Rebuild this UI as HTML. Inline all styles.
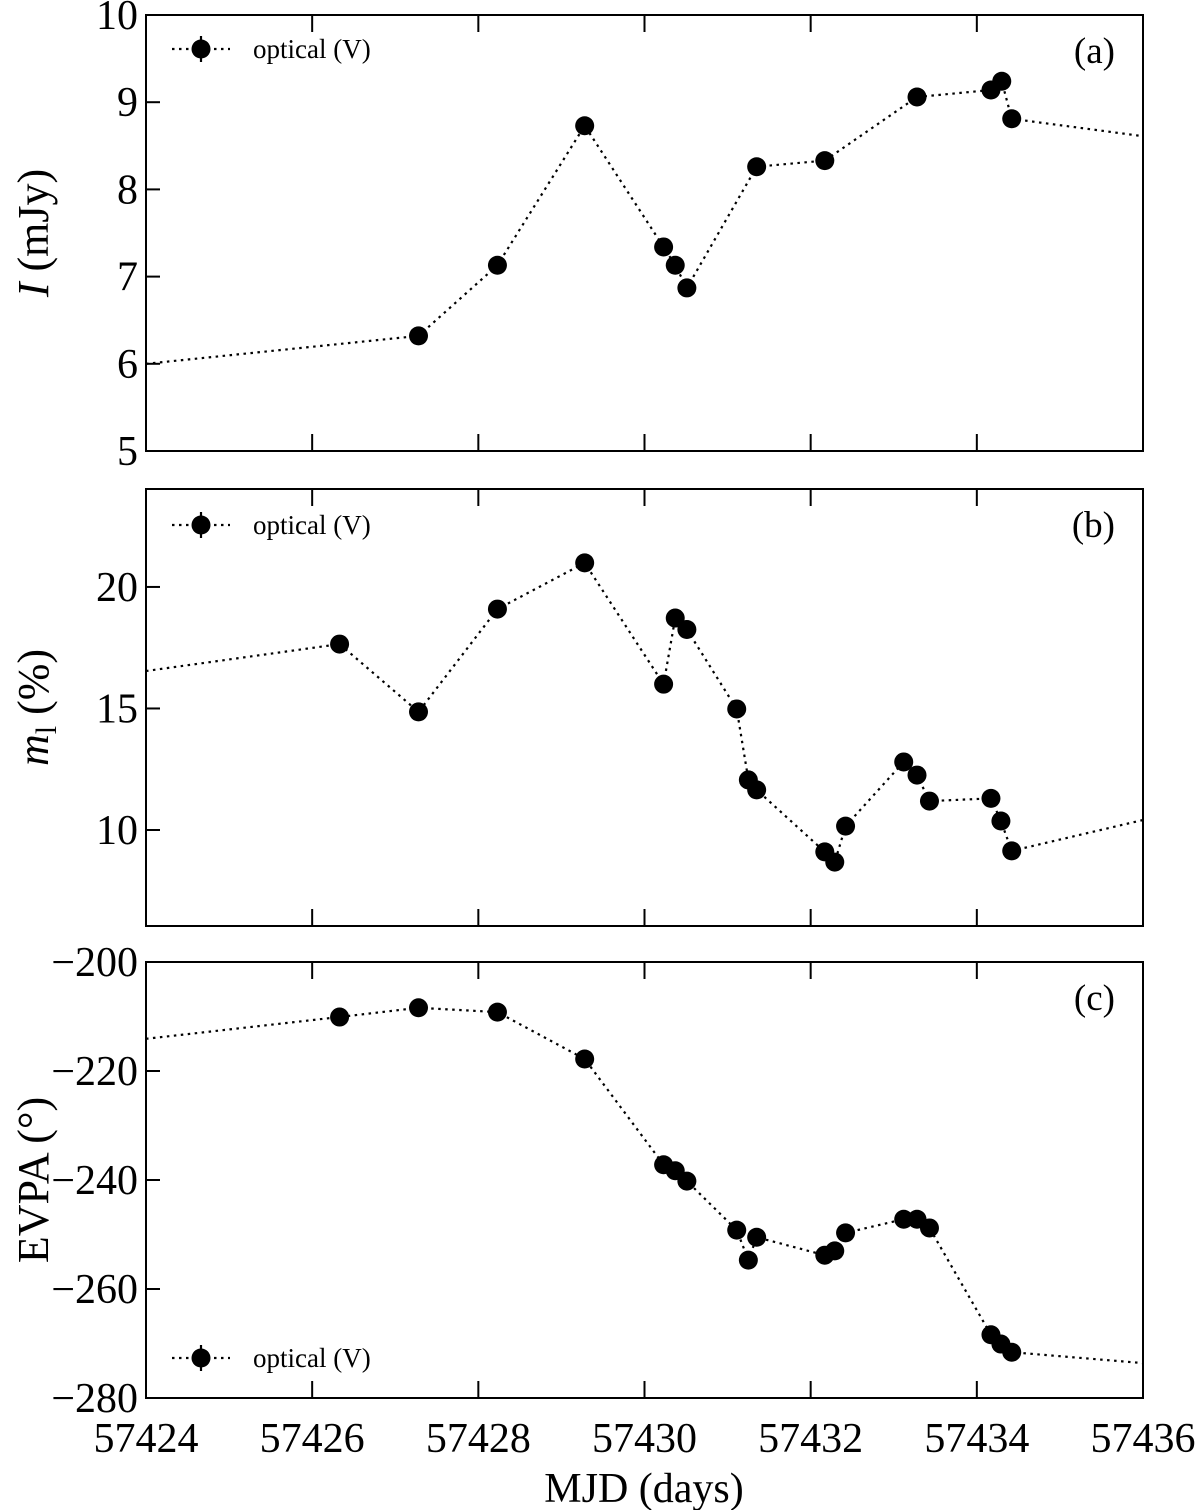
<!DOCTYPE html>
<html><head><meta charset="utf-8"><style>
html,body{margin:0;padding:0;background:#fff;}
svg{display:block;font-family:"Liberation Serif",serif;}
</style></head><body>
<svg id="chart" width="1200" height="1510" viewBox="0 0 1200 1510" xmlns="http://www.w3.org/2000/svg"></svg>
<script>
const mjdA=[57424,57427.28,57428.23,57429.28,57430.23,57430.37,57430.51,57431.35,57432.17,57433.28,57434.17,57434.30,57434.42,57436];
const fluxA=[6.0,6.32,7.13,8.73,7.34,7.13,6.87,8.26,8.33,9.06,9.14,9.24,8.81,8.61];
const mjdB=[57424,57426.33,57427.28,57428.23,57429.28,57430.23,57430.37,57430.51,57431.11,57431.25,57431.35,57432.17,57432.29,57432.42,57433.12,57433.28,57433.43,57434.17,57434.29,57434.42,57436];
const polB=[16.54,17.65,14.86,19.09,20.99,16.0,18.72,18.25,14.98,12.06,11.65,9.1,8.68,10.16,12.8,12.26,11.19,11.3,10.37,9.14,10.41];
const mjdC=[57424,57426.33,57427.28,57428.23,57429.28,57430.23,57430.37,57430.51,57431.11,57431.25,57431.35,57432.17,57432.29,57432.42,57433.12,57433.28,57433.43,57434.17,57434.29,57434.42,57436];
const evpaC=[-214.1,-210.1,-208.4,-209.2,-217.8,-237.2,-238.3,-240.2,-249.2,-254.7,-250.5,-253.8,-253.0,-249.7,-247.2,-247.2,-248.8,-268.4,-270.1,-271.6,-273.6];
const xTicks=[57424,57426,57428,57430,57432,57434,57436];
const ticksA=[5,6,7,8,9,10];
const ticksB=[10,15,20];
const ticksC=[-200,-220,-240,-260,-280];

const NS="http://www.w3.org/2000/svg";
const svg=document.getElementById('chart');
function el(t,a,p){const e=document.createElementNS(NS,t);for(const k in a)e.setAttribute(k,a[k]);(p||svg).appendChild(e);return e;}
const X0=146,X1=1143;
const xs=v=>X0+(v-57424)/12*(X1-X0);
function fmt(v){return v<0?'\u2212'+(-v):''+v;}

function panel(name,top,bot,ymin,ymax,yt,xd,yd,letter,legendY,ylabel,showX){
  const g=el('g',{});
  
  
  const ys=v=>bot-(v-ymin)/(ymax-ymin)*(bot-top);
  const pts=xd.map((x,i)=>xs(x).toFixed(1)+','+ys(yd[i]).toFixed(1)).join(' ');
  const ln=el('polyline',{points:pts,fill:'none',stroke:'#000','stroke-width':2.2,'stroke-dasharray':'2.5,4.5'},g);
  
  
  for(let i=1;i<xd.length-1;i++){
    const c=el('circle',{cx:xs(xd[i]),cy:ys(yd[i]),r:9.5,fill:'#000'},g);
    
    
  }
  const fr=el('rect',{x:X0,y:top,width:X1-X0,height:bot-top,fill:'none',stroke:'#000','stroke-width':2},g);
  
  
  xTicks.forEach(t=>{
    const x=xs(t);
    el('line',{x1:x,y1:bot,x2:x,y2:bot-17,stroke:'#000','stroke-width':2},g);
    el('line',{x1:x,y1:top,x2:x,y2:top+17,stroke:'#000','stroke-width':2},g);
    if(showX){const tx=el('text',{x:x,y:bot+54,'font-size':42,'text-anchor':'middle'},g);tx.textContent=t;
      }
  });
  yt.forEach(t=>{
    const y=ys(t);
    el('line',{x1:X0,y1:y,x2:X0+14,y2:y,stroke:'#000','stroke-width':2},g);
    const tx=el('text',{x:X0-8,y:y+14,'font-size':42,'text-anchor':'end'},g);tx.textContent=fmt(t);
    
  });
  const lt=el('text',{x:1115,y:top+48,'font-size':37,'text-anchor':'end'},g);lt.textContent=letter;
  
  const lg=el('g',{},g);
  
  
  el('line',{x1:172,y1:legendY,x2:230,y2:legendY,stroke:'#000','stroke-width':2.2,'stroke-dasharray':'2.5,4.5'},lg);
  el('line',{x1:201,y1:legendY-13,x2:201,y2:legendY+13,stroke:'#000','stroke-width':2.2},lg);
  el('circle',{cx:201,cy:legendY,r:9.5,fill:'#000'},lg);
  const lx=el('text',{x:253,y:legendY+9,'font-size':27},lg);lx.textContent='optical (V)';
  const yl=el('text',{transform:`translate(48,${(top+bot)/2}) rotate(-90)`,'font-size':44,'text-anchor':'middle'},g);
  
  yl.innerHTML=ylabel;
}
panel('panel-a-flux',15,451,5,10,ticksA,mjdA,fluxA,'(a)',49,'<tspan font-style="italic">I</tspan> (mJy)',false);
panel('panel-b-polarization',489,926,6.05,24.03,ticksB,mjdB,polB,'(b)',525,'<tspan font-style="italic">m</tspan><tspan font-size="30" dy="8">l</tspan><tspan dy="-8"> (%)</tspan>',false);
panel('panel-c-evpa',962,1398,-280,-200,ticksC,mjdC,evpaC,'(c)',1358,'EVPA (°)',true);
const xl=el('text',{x:644,y:1502,'font-size':42,'text-anchor':'middle'});xl.textContent='MJD (days)';


</script>
</body></html>
